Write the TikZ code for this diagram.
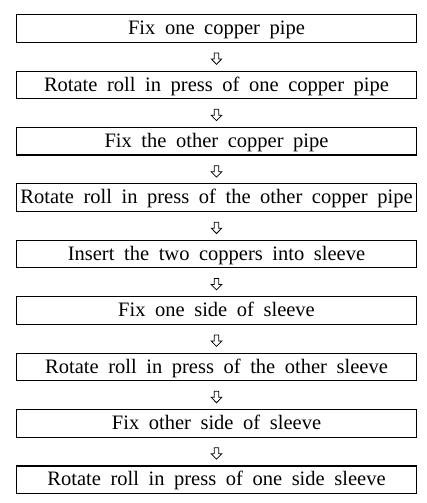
\documentclass[tikz,border=0pt]{standalone}
\usepackage{fontspec}
\setmainfont{Liberation Serif}
\usetikzlibrary{calc}
\newcommand{\stepfont}{\fontsize{20.5}{24}\selectfont\spaceskip=9.6pt\relax}
\begin{document}
\begin{tikzpicture}[x=1pt,y=-1pt,
  stepbox/.style={draw,line width=1.1pt,minimum width=400.5pt,minimum height=27.5pt,
    inner sep=0pt,text height=15.5pt,text depth=3pt,font=\stepfont},
  hollowarrow/.style={draw,line width=0.75pt,line join=miter}]
\useasboundingbox (0,0) rectangle (427,503);
\node[stepbox] (b1) at (216.5,28.45)  {Fix one copper pipe};
\node[stepbox] (b2) at (216.5,84.86)  {Rotate roll in press of one copper pipe};
\node[stepbox] (b3) at (216.5,141.27) {Fix the other copper pipe};
\node[stepbox] (b4) at (216.5,197.68) {Rotate roll in press of the other copper pipe};
\node[stepbox] (b5) at (216.5,254.09) {Insert the two coppers into sleeve};
\node[stepbox] (b6) at (216.5,310.50) {Fix one side of sleeve};
\node[stepbox] (b7) at (216.5,366.91) {Rotate roll in press of the other sleeve};
\node[stepbox] (b8) at (216.5,423.32) {Fix other side of sleeve};
\node[stepbox] (b9) at (216.5,479.73) {Rotate roll in press of one side sleeve};
\foreach \p/\n in {b1/b2,b2/b3,b3/b4,b4/b5,b5/b6,b6/b7,b7/b8,b8/b9}{
  \coordinate (m\p) at ($(\p.south)!0.57!(\n.north)$);
  \draw[hollowarrow,shift={(m\p)}] (-2.3,-5.7) -- (2.3,-5.7) -- (2.3,0.3) -- (5.3,0.3)
     -- (0,5.7) -- (-5.3,0.3) -- (-2.3,0.3) -- cycle;
}
\end{tikzpicture}
\end{document}
